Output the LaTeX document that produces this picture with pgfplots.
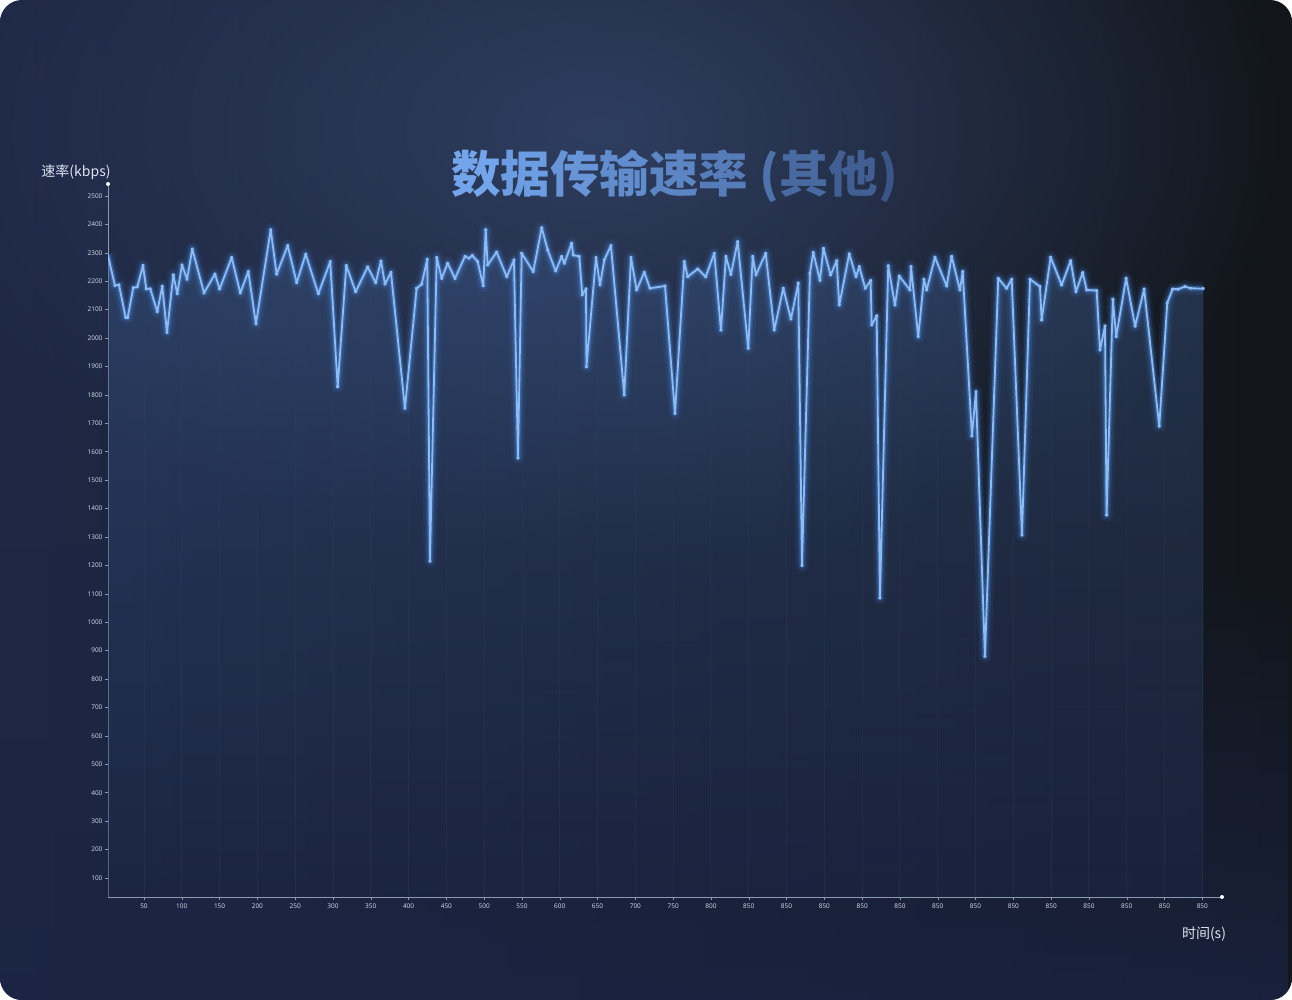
\documentclass[border=0pt]{standalone}
\usepackage{pgfplots}
\pgfplotsset{compat=1.18}
\usepackage{pgfplotstable}
\usepackage{fontspec}
\setmainfont{Noto Sans}
\newfontfamily\cjk{Noto Sans CJK SC}
\usetikzlibrary{fadings}
\definecolor{bgL}{HTML}{1E2845}
\definecolor{bgM}{HTML}{212D4D}
\definecolor{bgR}{HTML}{121519}
\definecolor{hl}{HTML}{34466C}
\definecolor{bgBot}{HTML}{1B2444}
\definecolor{axisgray}{HTML}{8E98AE}
\definecolor{ticklab}{HTML}{C9D1E0}
\definecolor{core}{HTML}{8DBBF3}
\definecolor{glow}{HTML}{4A8DE6}
\definecolor{areaTop}{HTML}{3A5888}
\definecolor{areaBot}{HTML}{1C2745}
\definecolor{tA}{HTML}{72A5EC}
\definecolor{tB}{HTML}{3A5687}
\definecolor{lab}{HTML}{DCE3F0}
\tikzfading[name=glowfade, inner color=transparent!20, outer color=transparent!100]

\pgfplotstableread{
t v
2.0 2295
11.6 2185
16.9 2187
25.8 2072
28.4 2072
35.8 2177
41.1 2180
48.7 2255
53.0 2173
58.3 2173
67.6 2093
74.2 2182
80.4 2020
88.8 2222
94.0 2156
100.3 2257
106.9 2207
113.9 2313
129.4 2159
143.9 2225
150.1 2173
166.0 2283
177.4 2159
188.0 2234
198.1 2050
217.6 2381
225.5 2225
240.1 2325
252.0 2195
263.9 2295
280.6 2156
296.4 2269
306.2 1829
317.6 2255
330.0 2163
345.9 2250
356.5 2195
363.5 2271
368.8 2190
376.7 2231
395.2 1753
410.7 2175
417.3 2189
424.7 2277
428.3 1215
437.2 2283
443.8 2210
451.7 2263
461.4 2210
474.6 2287
479.9 2281
484.3 2290
491.4 2269
498.8 2184
502.0 2381
504.6 2257
516.5 2302
529.8 2216
539.4 2275
544.7 1578
549.6 2298
564.9 2234
576.1 2388
584.0 2310
594.6 2236
602.5 2287
606.0 2263
615.7 2333
617.9 2292
625.8 2287
629.8 2152
634.7 2173
635.3 1899
647.9 2283
653.2 2187
658.9 2275
667.7 2325
685.3 1800
694.2 2283
701.7 2169
711.8 2231
719.3 2175
739.2 2183
752.4 1735
764.7 2269
769.2 2216
782.4 2243
793.0 2216
804.4 2298
813.2 2028
819.8 2287
826.4 2224
835.3 2339
849.3 1964
855.2 2287
859.5 2222
872.4 2298
883.7 2028
895.6 2175
905.8 2067
915.5 2193
920.4 1200
930.9 2228
935.3 2301
944.2 2203
948.8 2315
958.3 2222
966.3 2272
969.7 2116
982.9 2296
991.8 2216
996.2 2251
1004.1 2175
1011.2 2202
1012.6 2046
1019.2 2078
1023.5 1085
1034.5 2254
1043.4 2116
1049.1 2218
1063.2 2169
1064.6 2251
1074.2 2005
1081.7 2207
1085.3 2169
1096.3 2284
1111.8 2183
1118.4 2287
1129.4 2169
1133.0 2234
1145.2 1655
1150.5 1811
1162.4 880
1180.0 2210
1191.1 2175
1197.8 2207
1211.4 1307
1222.0 2207
1235.2 2181
1237.4 2064
1249.3 2284
1263.9 2187
1275.8 2272
1282.8 2163
1291.7 2230
1297.0 2169
1310.2 2167
1314.6 1958
1321.2 2042
1323.3 1377
1331.6 2136
1336.0 2005
1349.2 2210
1361.1 2042
1373.0 2172
1393.0 1690
1403.6 2124
1410.7 2172
1418.1 2172
1427.0 2181
1434.5 2175
1451.2 2174
}\ratedata

\begin{document}
\begin{tikzpicture}[x=1pt,y=1pt]
\begin{scope}
\clip[rounded corners=22pt] (0,0) rectangle (1292,1000);
\shade[left color=bgL, middle color=bgM, right color=bgR] (0,0) rectangle (1292,1000);
\fill[hl, path fading=glowfade] (600,870) ellipse (700 and 430);
\fill[bgBot, path fading=north, opacity=0.8] (0,0) rectangle (1292,450);
\end{scope}

\node[text=lab, font=\cjk\fontsize{14}{16}\selectfont] at (76,828) {速率(kbps)};
\node[text=lab, font=\cjk\fontsize{14}{16}\selectfont] at (1204,66) {时间(s)};
\node at (674.5,824) {\cjk\bfseries\fontsize{49.5}{55}\selectfont
\textcolor{tA}{数}\textcolor{tA!90!tB}{据}\textcolor{tA!80!tB}{传}\textcolor{tA!70!tB}{输}\textcolor{tA!60!tB}{速}\textcolor{tA!50!tB}{率} \textcolor{tA!35!tB}{(}\textcolor{tA!25!tB}{其}\textcolor{tA!12!tB}{他}\textcolor{tB}{)}};

\begin{axis}[
  at={(108pt,103pt)}, anchor=south west,
  width=1114pt, height=713pt, scale only axis,
  xmin=2.4, xmax=1476, ymin=33, ymax=2542,
  axis x line*=bottom, axis y line*=left,
  axis line style={color=axisgray, line width=0.9pt},
  xtick={50,100,...,1450},
  xticklabels={50,100,150,200,250,300,350,400,450,500,550,600,650,700,750,800,850,850,850,850,850,850,850,850,850,850,850,850,850},
  ytick={100,200,...,2500},
  tick style={color=axisgray, line width=0.5pt},
  major tick length=3pt, tick align=outside,
  ticklabel style={font=\fontsize{6.5}{7}\selectfont, text=ticklab},
  yticklabel style={xshift=1pt},
  /pgf/number format/assume math mode=true,
  /pgf/number format/1000 sep={},
  xmajorgrids,
  major grid style={color=white, opacity=0.07, line width=0.6pt, path fading=north},
  after end axis/.code={
    \fill[white] (rel axis cs:0,1) circle (2pt);
    \fill[white] (rel axis cs:1,0) circle (2pt);
  },
]
\addplot[draw=none, top color=areaTop, bottom color=areaBot, fill opacity=0.45] table[x=t,y=v] {\ratedata} \closedcycle;
\addplot[glow, line width=13pt, opacity=0.08, line join=round] table[x=t,y=v] {\ratedata};
\addplot[glow, line width=8pt, opacity=0.16, line join=round] table[x=t,y=v] {\ratedata};
\addplot[glow, line width=4.5pt, opacity=0.38, line join=round] table[x=t,y=v] {\ratedata};
\addplot[core, line width=1.8pt, line join=round, mark=*, mark size=0.8pt, mark options={fill=core, draw=core}] table[x=t,y=v] {\ratedata};
\end{axis}
\end{tikzpicture}
\end{document}
